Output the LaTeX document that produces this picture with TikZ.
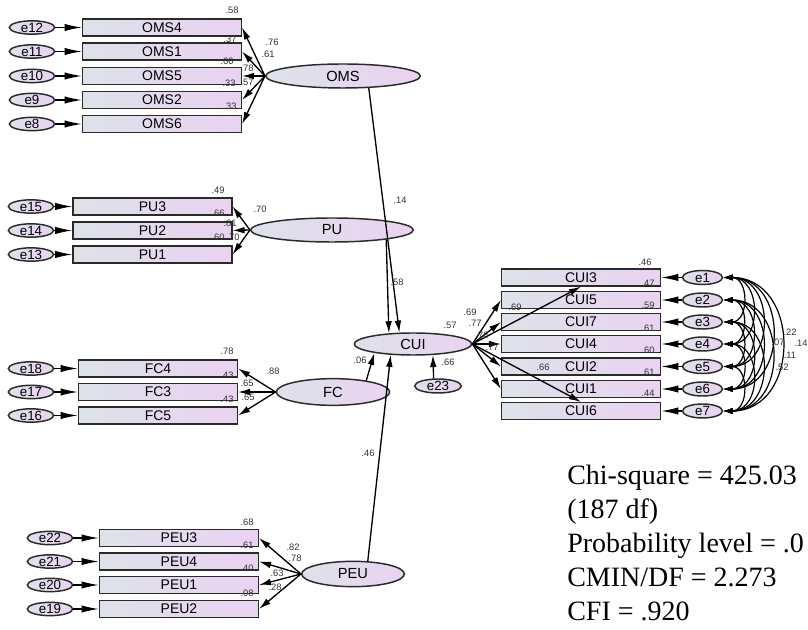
\documentclass[tikz,border=0pt]{standalone}
\usepackage{fontspec}
\setmainfont{Liberation Serif}
\setsansfont{Liberation Sans}
\usetikzlibrary{arrows.meta,shapes.geometric}
\definecolor{boxl}{HTML}{DDE2E9}
\definecolor{boxr}{HTML}{EAD2F2}
\definecolor{edge}{HTML}{2A2A2A}
\begin{document}
\begin{tikzpicture}[
  x=0.75pt,y=-0.75pt,font=\sffamily,
  ind/.style={rectangle,draw=edge,line width=1.1pt,left color=boxl,right color=boxr,minimum width=119pt,minimum height=12.5pt,inner sep=0pt,font=\sffamily\fontsize{10.5}{11}\selectfont},
  lat/.style={ellipse,draw=edge,line width=1.1pt,left color=boxl,right color=boxr,inner sep=0pt,font=\sffamily\fontsize{11}{12}\selectfont},
  err/.style={ellipse,draw=edge,line width=1.1pt,left color=boxl,right color=boxr,minimum width=34pt,minimum height=10pt,inner sep=0pt,text height=7pt,text depth=0pt,font=\sffamily\fontsize{10}{10}\selectfont},
  ar/.style={-{Latex[length=9pt,width=5pt]},line width=1pt},
  ear/.style={-{Latex[length=13pt,width=5.5pt]},line width=1pt},
  cov/.style={{Latex[length=7pt,width=4.5pt]}-{Latex[length=7pt,width=4.5pt]},line width=0.9pt},
  est/.style={font=\sffamily\fontsize{7}{8}\selectfont,inner sep=0pt,text=black!80}
]
\clip (0,0) rectangle (808,630);
\fill[white] (0,0) rectangle (808,630);
% OMS block
\node[ind] (OMS4) at (162,27.5) {OMS4};
\node[ind] (OMS1) at (162,51.5) {OMS1};
\node[ind] (OMS5) at (162,76) {OMS5};
\node[ind] (OMS2) at (162,100) {OMS2};
\node[ind] (OMS6) at (162,124) {OMS6};
\node[err] (e12) at (32,27.5) {e12};
\node[err] (e11) at (32,51.5) {e11};
\node[err] (e10) at (32,76) {e10};
\node[err] (e9) at (32,100) {e9};
\node[err] (e8) at (32,124) {e8};
\node[lat,minimum width=116pt,minimum height=18pt] (OMS) at (343,76) {OMS};
% PU block
\node[ind] (PU3) at (152.5,206.5) {PU3};
\node[ind] (PU2) at (152.5,230.5) {PU2};
\node[ind] (PU1) at (152.5,254.5) {PU1};
\node[err] (e15) at (31,206.5) {e15};
\node[err] (e14) at (31,230.5) {e14};
\node[err] (e13) at (31,254.5) {e13};
\node[lat,minimum width=122pt,minimum height=18pt] (PU) at (332,230) {PU};
% FC block
\node[ind] (FC4) at (158,368.5) {FC4};
\node[ind] (FC3) at (158,392) {FC3};
\node[ind] (FC5) at (158,415.5) {FC5};
\node[err] (e18) at (31,368.5) {e18};
\node[err] (e17) at (31,392) {e17};
\node[err] (e16) at (31,415.5) {e16};
\node[lat,minimum width=85pt,minimum height=20pt] (FC) at (333,392) {FC};
% PEU block
\node[ind] (PEU3) at (179,538) {PEU3};
\node[ind] (PEU4) at (179,561.5) {PEU4};
\node[ind] (PEU1) at (179,585) {PEU1};
\node[ind] (PEU2) at (179,609) {PEU2};
\node[err] (e22) at (50,538) {e22};
\node[err] (e21) at (50,561.5) {e21};
\node[err] (e20) at (50,585) {e20};
\node[err] (e19) at (50,609) {e19};
\node[lat,minimum width=77pt,minimum height=19pt] (PEU) at (353,574) {PEU};
% CUI block
\node[lat,minimum width=88pt,minimum height=16.5pt] (CUI) at (413,344) {CUI};
\node[err,minimum width=35pt,minimum height=10.5pt] (e23) at (438,386) {e23};
\node[ind] (CUI3) at (581,277.5) {CUI3};
\node[ind] (CUI5) at (581,300) {CUI5};
\node[ind] (CUI7) at (581,322) {CUI7};
\node[ind] (CUI4) at (581,344) {CUI4};
\node[ind] (CUI2) at (581,366.5) {CUI2};
\node[ind] (CUI1) at (581,389) {CUI1};
\node[ind] (CUI6) at (581,411) {CUI6};
\node[err,minimum width=30pt,minimum height=10.5pt] (e1) at (702.5,277.5) {e1};
\node[err,minimum width=30pt,minimum height=10.5pt] (e2) at (702.5,300) {e2};
\node[err,minimum width=30pt,minimum height=10.5pt] (e3) at (702.5,322) {e3};
\node[err,minimum width=30pt,minimum height=10.5pt] (e4) at (702.5,344) {e4};
\node[err,minimum width=30pt,minimum height=10.5pt] (e5) at (702.5,366.5) {e5};
\node[err,minimum width=30pt,minimum height=10.5pt] (e6) at (702.5,389) {e6};
\node[err,minimum width=30pt,minimum height=10.5pt] (e7) at (702.5,411) {e7};
% error terms
\draw[ear](e12)--(OMS4); \draw[ear](e11)--(OMS1); \draw[ear](e10)--(OMS5); \draw[ear](e9)--(OMS2); \draw[ear](e8)--(OMS6);
\draw[ear](e15)--(PU3); \draw[ear](e14)--(PU2); \draw[ear](e13)--(PU1);
\draw[ear](e18)--(FC4); \draw[ear](e17)--(FC3); \draw[ear](e16)--(FC5);
\draw[ear](e22)--(PEU3); \draw[ear](e21)--(PEU4); \draw[ear](e20)--(PEU1); \draw[ear](e19)--(PEU2);
\draw[ear](e1)--(CUI3); \draw[ear](e2)--(CUI5); \draw[ear](e3)--(CUI7); \draw[ear](e4)--(CUI4);
\draw[ear](e5)--(CUI2); \draw[ear](e6)--(CUI1); \draw[ear](e7)--(CUI6);
% loadings
\draw[ar](OMS.west)--(OMS4.east); \draw[ar](OMS.west)--(OMS1.east); \draw[ar](OMS.west)--(OMS5.east);
\draw[ar](OMS.west)--(OMS2.east); \draw[ar](OMS.west)--(OMS6.east);
\draw[ar](PU.west)--(PU3.east); \draw[ar](PU.west)--(PU2.east); \draw[ar](PU.west)--(PU1.east);
\draw[ar](FC.west)--(FC4.east); \draw[ar](FC.west)--(FC3.east); \draw[ar](FC.west)--(FC5.east);
\draw[ar](PEU.west)--(PEU3.east); \draw[ar](PEU.west)--(PEU4.east); \draw[ar](PEU.west)--(PEU1.east); \draw[ar](PEU.west)--(PEU2.east);
\draw[ar](CUI.east)--(CUI5.west); \draw[ar](CUI.east)--(CUI7.west); \draw[ar](CUI.east)--(CUI4.west);
\draw[ar](CUI.east)--(CUI2.west); \draw[ar](CUI.east)--(CUI1.west);
\draw[ar](CUI.east)--(CUI3.south); \draw[ar](CUI.east)--(CUI6.north);
% structural paths
\draw[ar](OMS.-25)--(CUI.140); \draw[ar](PU.-10)--(CUI.156);
\draw[ar](FC.19)--(CUI.193); \draw[ar](PEU.41)--(CUI.206);
\draw[ar](e23.120)--(CUI.-29);
% covariances among e1..e7
\foreach \i/\j in {1/3,1/4,1/5,1/6,1/7,2/4,2/5,2/6,2/7,3/5,3/6,3/7,4/6,4/7,5/7}
  \draw[cov](e\i.east) to[out=0,in=0,looseness=1.5] (e\j.east);
% estimates
\node[est] at (232,10) {.58}; \node[est] at (230,39) {.37}; \node[est] at (227,61) {.60};
\node[est] at (229,83) {.33}; \node[est] at (247,82) {.57}; \node[est] at (230,106) {.33};
\node[est] at (272,42) {.76}; \node[est] at (268,54) {.61}; \node[est] at (247,68) {.78};
\node[est] at (218,190) {.49}; \node[est] at (218,213) {.66}; \node[est] at (260,209) {.70};
\node[est] at (230,223) {.81}; \node[est] at (218,237) {.60}; \node[est] at (233,237) {.70};
\node[est] at (227,351) {.78}; \node[est] at (273,371) {.88}; \node[est] at (227,375) {.43};
\node[est] at (247,383) {.65}; \node[est] at (227,399) {.43}; \node[est] at (248,397) {.65};
\node[est] at (247,522) {.68}; \node[est] at (293,547) {.82}; \node[est] at (247,545) {.61};
\node[est] at (295,558) {.78}; \node[est] at (247,568) {.40}; \node[est] at (277,573) {.63};
\node[est] at (247,593) {.08}; \node[est] at (275,587) {.28};
\node[est] at (400,200) {.14}; \node[est] at (397,282) {.58};
\node[est] at (360,360) {.06}; \node[est] at (368,453) {.46};
\node[est] at (450,325) {.57}; \node[est] at (448,362) {.66};
\node[est] at (470,312) {.69}; \node[est] at (475,323) {.77}; \node[est] at (515,307) {.69};
\node[est] at (482,335) {.78}; \node[est] at (492,347) {.77}; \node[est] at (543,367) {.66};
\node[est] at (645,262) {.46}; \node[est] at (648,283) {.47}; \node[est] at (648,305) {.59};
\node[est] at (648,328) {.61}; \node[est] at (648,350) {.60}; \node[est] at (648,372) {.61};
\node[est] at (648,393) {.44};
\node[est] at (790,332) {.22}; \node[est] at (778,342) {.07}; \node[est] at (801,343) {.14};
\node[est] at (790,355) {.11}; \node[est] at (782,367) {.52};
% fit statistics
\node[anchor=north west,align=left,inner sep=0pt,font=\rmfamily\fontsize{21}{25.5}\selectfont] (fit) at (567,465)
  {Chi-square = 425.03\\(187 df)\\Probability level = .0\\CMIN/DF = 2.273\\CFI = .920};
\end{tikzpicture}
\end{document}
